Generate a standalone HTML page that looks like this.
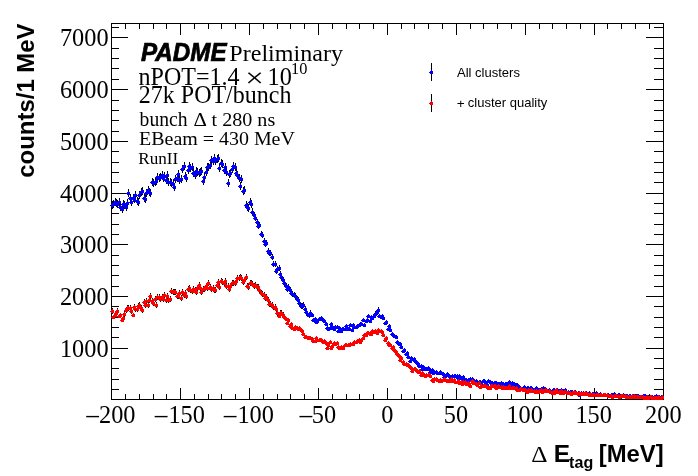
<!DOCTYPE html>
<html><head><meta charset="utf-8"><style>
html,body{margin:0;padding:0;background:#fff;}
svg{display:block;}
.serif{font-family:"Liberation Serif","DejaVu Serif",serif;}
.sans{font-family:"Liberation Sans","DejaVu Sans",sans-serif;}
</style></head><body>
<svg width="698" height="476" viewBox="0 0 698 476">
<rect width="698" height="476" fill="#fff"/>
<g shape-rendering="crispEdges">
<path d="M111 23h553v1h-553zM111 399h553v1h-553zM111 23h1v377h-1zM663 23h1v377h-1zM111 388h1v11h-1zM111 24h1v11h-1zM125 394h1v5h-1zM125 24h1v5h-1zM139 394h1v5h-1zM139 24h1v5h-1zM153 394h1v5h-1zM153 24h1v5h-1zM166 394h1v5h-1zM166 24h1v5h-1zM180 388h1v11h-1zM180 24h1v11h-1zM194 394h1v5h-1zM194 24h1v5h-1zM208 394h1v5h-1zM208 24h1v5h-1zM221 394h1v5h-1zM221 24h1v5h-1zM235 394h1v5h-1zM235 24h1v5h-1zM249 388h1v11h-1zM249 24h1v11h-1zM263 394h1v5h-1zM263 24h1v5h-1zM277 394h1v5h-1zM277 24h1v5h-1zM290 394h1v5h-1zM290 24h1v5h-1zM304 394h1v5h-1zM304 24h1v5h-1zM318 388h1v11h-1zM318 24h1v11h-1zM332 394h1v5h-1zM332 24h1v5h-1zM346 394h1v5h-1zM346 24h1v5h-1zM359 394h1v5h-1zM359 24h1v5h-1zM373 394h1v5h-1zM373 24h1v5h-1zM387 388h1v11h-1zM387 24h1v11h-1zM401 394h1v5h-1zM401 24h1v5h-1zM414 394h1v5h-1zM414 24h1v5h-1zM428 394h1v5h-1zM428 24h1v5h-1zM442 394h1v5h-1zM442 24h1v5h-1zM456 388h1v11h-1zM456 24h1v11h-1zM470 394h1v5h-1zM470 24h1v5h-1zM483 394h1v5h-1zM483 24h1v5h-1zM497 394h1v5h-1zM497 24h1v5h-1zM511 394h1v5h-1zM511 24h1v5h-1zM525 388h1v11h-1zM525 24h1v11h-1zM539 394h1v5h-1zM539 24h1v5h-1zM552 394h1v5h-1zM552 24h1v5h-1zM566 394h1v5h-1zM566 24h1v5h-1zM580 394h1v5h-1zM580 24h1v5h-1zM594 388h1v11h-1zM594 24h1v11h-1zM607 394h1v5h-1zM607 24h1v5h-1zM621 394h1v5h-1zM621 24h1v5h-1zM635 394h1v5h-1zM635 24h1v5h-1zM649 394h1v5h-1zM649 24h1v5h-1zM663 388h1v11h-1zM663 24h1v11h-1zM112 389h7v1h-7zM654 389h9v1h-9zM112 379h7v1h-7zM654 379h9v1h-9zM112 368h7v1h-7zM654 368h9v1h-9zM112 358h7v1h-7zM654 358h9v1h-9zM112 348h16v1h-16zM646 348h17v1h-17zM112 337h7v1h-7zM654 337h9v1h-9zM112 327h7v1h-7zM654 327h9v1h-9zM112 317h7v1h-7zM654 317h9v1h-9zM112 306h7v1h-7zM654 306h9v1h-9zM112 296h16v1h-16zM646 296h17v1h-17zM112 286h7v1h-7zM654 286h9v1h-9zM112 275h7v1h-7zM654 275h9v1h-9zM112 265h7v1h-7zM654 265h9v1h-9zM112 255h7v1h-7zM654 255h9v1h-9zM112 244h16v1h-16zM646 244h17v1h-17zM112 234h7v1h-7zM654 234h9v1h-9zM112 224h7v1h-7zM654 224h9v1h-9zM112 213h7v1h-7zM654 213h9v1h-9zM112 203h7v1h-7zM654 203h9v1h-9zM112 193h16v1h-16zM646 193h17v1h-17zM112 182h7v1h-7zM654 182h9v1h-9zM112 172h7v1h-7zM654 172h9v1h-9zM112 162h7v1h-7zM654 162h9v1h-9zM112 151h7v1h-7zM654 151h9v1h-9zM112 141h16v1h-16zM646 141h17v1h-17zM112 131h7v1h-7zM654 131h9v1h-9zM112 120h7v1h-7zM654 120h9v1h-9zM112 110h7v1h-7zM654 110h9v1h-9zM112 100h7v1h-7zM654 100h9v1h-9zM112 89h16v1h-16zM646 89h17v1h-17zM112 79h7v1h-7zM654 79h9v1h-9zM112 68h7v1h-7zM654 68h9v1h-9zM112 58h7v1h-7zM654 58h9v1h-9zM112 48h7v1h-7zM654 48h9v1h-9zM112 37h16v1h-16zM646 37h17v1h-17zM112 27h7v1h-7zM654 27h9v1h-9z" fill="#000"/>
<path d="M112 201h1v8h-1zM113 200h1v8h-1zM115 198h1v8h-1zM116 199h1v8h-1zM117 200h1v8h-1zM119 198h1v8h-1zM120 203h1v8h-1zM122 205h1v8h-1zM123 200h1v8h-1zM124 201h1v8h-1zM126 203h1v8h-1zM127 199h1v8h-1zM128 189h1v8h-1zM130 194h1v8h-1zM131 198h1v8h-1zM133 194h1v8h-1zM134 195h1v8h-1zM135 191h1v8h-1zM137 197h1v8h-1zM138 198h1v8h-1zM139 191h1v8h-1zM141 188h1v8h-1zM142 187h1v8h-1zM144 194h1v8h-1zM145 195h1v8h-1zM146 189h1v8h-1zM148 186h1v8h-1zM149 188h1v8h-1zM150 189h1v8h-1zM152 178h1v8h-1zM153 179h1v8h-1zM155 178h1v8h-1zM156 177h1v8h-1zM157 173h1v8h-1zM159 174h1v8h-1zM160 173h1v8h-1zM162 171h1v8h-1zM163 174h1v8h-1zM164 172h1v8h-1zM166 176h1v8h-1zM167 171h1v8h-1zM168 178h1v8h-1zM170 178h1v8h-1zM171 179h1v8h-1zM173 180h1v8h-1zM174 183h1v8h-1zM175 175h1v8h-1zM177 174h1v8h-1zM178 170h1v8h-1zM179 176h1v8h-1zM181 175h1v8h-1zM182 165h1v8h-1zM184 162h1v8h-1zM185 172h1v8h-1zM186 174h1v8h-1zM188 166h1v8h-1zM189 162h1v8h-1zM190 164h1v8h-1zM192 163h1v8h-1zM193 169h1v8h-1zM195 171h1v8h-1zM196 167h1v8h-1zM197 168h1v8h-1zM199 169h1v8h-1zM200 168h1v8h-1zM201 167h1v8h-1zM203 177h1v8h-1zM204 173h1v8h-1zM206 168h1v8h-1zM207 163h1v8h-1zM208 163h1v8h-1zM210 161h1v8h-1zM211 156h1v8h-1zM213 157h1v8h-1zM214 154h1v8h-1zM215 157h1v8h-1zM217 155h1v8h-1zM218 154h1v8h-1zM219 164h1v8h-1zM221 159h1v8h-1zM222 160h1v8h-1zM224 166h1v8h-1zM225 163h1v8h-1zM226 168h1v8h-1zM228 179h1v8h-1zM229 170h1v8h-1zM230 169h1v8h-1zM232 165h1v8h-1zM233 162h1v8h-1zM235 163h1v8h-1zM236 169h1v8h-1zM237 171h1v8h-1zM239 174h1v8h-1zM240 182h1v8h-1zM241 175h1v8h-1zM243 187h1v8h-1zM244 186h1v8h-1zM246 201h1v8h-1zM247 203h1v8h-1zM248 204h1v8h-1zM250 198h1v8h-1zM251 200h1v8h-1zM252 208h1v8h-1zM254 212h1v6h-1zM255 215h1v6h-1zM257 219h1v6h-1zM258 223h1v6h-1zM259 222h1v6h-1zM261 231h1v6h-1zM262 232h1v6h-1zM264 238h1v6h-1zM265 241h1v6h-1zM266 240h1v6h-1zM268 248h1v6h-1zM269 250h1v6h-1zM270 250h1v6h-1zM272 254h1v6h-1zM273 261h1v6h-1zM275 261h1v6h-1zM276 268h1v6h-1zM277 266h1v6h-1zM279 265h1v6h-1zM280 271h1v6h-1zM281 274h1v6h-1zM283 277h1v6h-1zM284 280h1v6h-1zM286 283h1v6h-1zM287 286h1v6h-1zM288 284h1v6h-1zM290 287h1v6h-1zM291 290h1v6h-1zM292 291h1v6h-1zM294 292h1v6h-1zM295 293h1v6h-1zM297 296h1v6h-1zM298 297h1v6h-1zM299 300h1v6h-1zM301 303h1v6h-1zM302 303h1v6h-1zM303 302h1v6h-1zM305 306h1v6h-1zM306 309h1v6h-1zM308 313h1v4h-1zM309 312h1v6h-1zM310 310h1v6h-1zM312 313h1v4h-1zM313 318h1v4h-1zM315 317h1v4h-1zM316 320h1v4h-1zM317 319h1v4h-1zM319 317h1v4h-1zM320 317h1v4h-1zM321 316h1v4h-1zM323 318h1v4h-1zM324 319h1v4h-1zM326 322h1v4h-1zM327 326h1v4h-1zM328 327h1v4h-1zM330 326h1v4h-1zM331 322h1v4h-1zM332 325h1v4h-1zM334 327h1v4h-1zM335 325h1v4h-1zM337 325h1v4h-1zM338 329h1v4h-1zM339 326h1v4h-1zM341 329h1v4h-1zM342 327h1v4h-1zM343 327h1v4h-1zM345 327h1v4h-1zM346 324h1v4h-1zM348 327h1v4h-1zM349 327h1v4h-1zM350 323h1v4h-1zM352 328h1v4h-1zM353 323h1v4h-1zM354 325h1v4h-1zM356 325h1v4h-1zM357 324h1v4h-1zM359 323h1v4h-1zM360 322h1v4h-1zM361 322h1v4h-1zM363 318h1v4h-1zM364 323h1v4h-1zM366 319h1v4h-1zM367 318h1v4h-1zM368 314h1v4h-1zM370 319h1v4h-1zM371 315h1v4h-1zM372 316h1v4h-1zM374 314h1v4h-1zM375 311h1v6h-1zM377 309h1v6h-1zM378 307h1v6h-1zM379 314h1v4h-1zM381 315h1v4h-1zM382 314h1v4h-1zM383 316h1v4h-1zM385 321h1v4h-1zM386 320h1v4h-1zM388 327h1v4h-1zM389 324h1v4h-1zM390 328h1v4h-1zM392 332h1v4h-1zM393 333h1v4h-1zM394 334h1v4h-1zM396 335h1v4h-1zM397 340h1v4h-1zM399 342h1v4h-1zM400 342h1v4h-1zM401 345h1v4h-1zM403 349h1v4h-1zM404 348h1v4h-1zM406 352h1v4h-1zM407 351h1v4h-1zM408 355h1v4h-1zM410 359h1v4h-1zM411 356h1v4h-1zM412 357h1v4h-1zM414 357h1v4h-1zM415 359h1v4h-1zM417 361h1v4h-1zM418 362h1v4h-1zM419 364h1v4h-1zM421 364h1v4h-1zM422 367h1v4h-1zM423 365h1v4h-1zM425 367h1v4h-1zM426 367h1v4h-1zM428 366h1v4h-1zM429 367h1v4h-1zM430 370h1v4h-1zM432 368h1v4h-1zM433 371h1v4h-1zM434 370h1v4h-1zM436 370h1v4h-1zM437 371h1v4h-1zM439 371h1v4h-1zM440 370h1v4h-1zM441 371h1v4h-1zM443 372h1v4h-1zM444 376h1v2h-1zM445 374h1v4h-1zM447 372h1v4h-1zM448 373h1v4h-1zM450 376h1v2h-1zM451 376h1v2h-1zM452 374h1v4h-1zM454 374h1v4h-1zM455 374h1v4h-1zM457 374h1v4h-1zM458 377h1v2h-1zM459 374h1v4h-1zM461 377h1v2h-1zM462 378h1v2h-1zM463 376h1v2h-1zM465 379h1v2h-1zM466 379h1v2h-1zM468 379h1v2h-1zM469 379h1v2h-1zM470 378h1v2h-1zM472 378h1v2h-1zM473 379h1v2h-1zM474 380h1v2h-1zM476 380h1v2h-1zM477 381h1v2h-1zM479 381h1v2h-1zM480 381h1v2h-1zM481 382h1v2h-1zM483 380h1v2h-1zM484 380h1v2h-1zM485 381h1v2h-1zM487 384h1v2h-1zM488 380h1v2h-1zM490 381h1v2h-1zM491 382h1v2h-1zM492 382h1v2h-1zM494 382h1v2h-1zM495 382h1v2h-1zM496 382h1v2h-1zM498 383h1v2h-1zM499 383h1v2h-1zM501 382h1v2h-1zM502 383h1v2h-1zM503 383h1v2h-1zM505 383h1v2h-1zM506 383h1v2h-1zM508 383h1v2h-1zM509 381h1v2h-1zM510 384h1v2h-1zM512 382h1v2h-1zM513 383h1v2h-1zM514 383h1v2h-1zM516 384h1v2h-1zM517 384h1v2h-1zM519 386h1v2h-1zM520 387h1v2h-1zM521 388h1v2h-1zM523 387h1v2h-1zM524 386h1v2h-1zM525 388h1v2h-1zM527 387h1v2h-1zM528 387h1v2h-1zM530 387h1v2h-1zM531 387h1v2h-1zM532 388h1v2h-1zM534 389h1v2h-1zM535 389h1v2h-1zM536 387h1v2h-1zM538 389h1v2h-1zM539 389h1v2h-1zM541 388h1v2h-1zM542 389h1v2h-1zM543 387h1v2h-1zM545 388h1v2h-1zM546 389h1v2h-1zM547 390h1v2h-1zM549 389h1v2h-1zM550 390h1v2h-1zM552 390h1v2h-1zM553 389h1v2h-1zM554 389h1v2h-1zM556 390h1v2h-1zM557 389h1v2h-1zM559 390h1v2h-1zM560 390h1v2h-1zM561 389h1v2h-1zM563 390h1v2h-1zM564 391h1v2h-1zM565 389h1v2h-1zM567 392h1v2h-1zM568 391h1v2h-1zM570 391h1v2h-1zM571 391h1v2h-1zM572 391h1v2h-1zM574 392h1v2h-1zM575 391h1v2h-1zM576 392h1v2h-1zM578 392h1v2h-1zM579 394h1v2h-1zM581 392h1v2h-1zM582 393h1v2h-1zM583 392h1v2h-1zM585 392h1v2h-1zM586 392h1v2h-1zM587 393h1v2h-1zM589 392h1v2h-1zM590 393h1v2h-1zM592 393h1v2h-1zM593 393h1v2h-1zM594 394h1v2h-1zM596 392h1v2h-1zM597 393h1v2h-1zM598 394h1v2h-1zM600 393h1v2h-1zM601 394h1v2h-1zM603 394h1v2h-1zM604 394h1v2h-1zM605 394h1v2h-1zM607 394h1v2h-1zM608 394h1v2h-1zM610 395h1v2h-1zM611 394h1v2h-1zM612 394h1v2h-1zM614 393h1v2h-1zM615 394h1v2h-1zM616 395h1v2h-1zM618 394h1v2h-1zM619 394h1v2h-1zM621 395h1v2h-1zM622 395h1v2h-1zM623 394h1v2h-1zM625 395h1v2h-1zM626 395h1v2h-1zM627 395h1v2h-1zM629 395h1v2h-1zM630 395h1v2h-1zM632 395h1v2h-1zM633 395h1v2h-1zM634 395h1v2h-1zM636 395h1v2h-1zM637 395h1v2h-1zM638 395h1v2h-1zM640 396h1v2h-1zM641 396h1v2h-1zM643 395h1v2h-1zM644 395h1v2h-1zM645 395h1v2h-1zM647 396h1v2h-1zM648 396h1v2h-1zM650 396h1v2h-1zM651 396h1v2h-1zM652 396h1v2h-1zM654 396h1v2h-1zM655 396h1v2h-1zM656 395h1v2h-1zM658 396h1v2h-1zM659 396h1v2h-1zM661 396h1v2h-1zM662 396h1v2h-1z" fill="#000"/>
<path d="M112 203h1v1h1v3h-3v-1h-1v-1h1v-1h1zM113 202h1v1h1v3h-3v-1h-1v-1h1v-1h1zM115 200h1v1h1v3h-3v-1h-1v-1h1v-1h1zM116 201h1v1h1v3h-3v-1h-1v-1h1v-1h1zM117 202h1v1h1v3h-3v-1h-1v-1h1v-1h1zM119 200h1v1h1v3h-3v-1h-1v-1h1v-1h1zM120 205h1v1h1v3h-3v-1h-1v-1h1v-1h1zM122 207h1v1h1v3h-3v-1h-1v-1h1v-1h1zM123 202h1v1h1v3h-3v-1h-1v-1h1v-1h1zM124 203h1v1h1v3h-3v-1h-1v-1h1v-1h1zM126 205h1v1h1v3h-3v-1h-1v-1h1v-1h1zM127 201h1v1h1v3h-3v-1h-1v-1h1v-1h1zM128 191h1v1h1v3h-3v-1h-1v-1h1v-1h1zM130 196h1v1h1v3h-3v-1h-1v-1h1v-1h1zM131 200h1v1h1v3h-3v-1h-1v-1h1v-1h1zM133 196h1v1h1v3h-3v-1h-1v-1h1v-1h1zM134 197h1v1h1v3h-3v-1h-1v-1h1v-1h1zM135 193h1v1h1v3h-3v-1h-1v-1h1v-1h1zM137 199h1v1h1v3h-3v-1h-1v-1h1v-1h1zM138 200h1v1h1v3h-3v-1h-1v-1h1v-1h1zM139 193h1v1h1v3h-3v-1h-1v-1h1v-1h1zM141 190h1v1h1v3h-3v-1h-1v-1h1v-1h1zM142 189h1v1h1v3h-3v-1h-1v-1h1v-1h1zM144 196h1v1h1v3h-3v-1h-1v-1h1v-1h1zM145 197h1v1h1v3h-3v-1h-1v-1h1v-1h1zM146 191h1v1h1v3h-3v-1h-1v-1h1v-1h1zM148 188h1v1h1v3h-3v-1h-1v-1h1v-1h1zM149 190h1v1h1v3h-3v-1h-1v-1h1v-1h1zM150 191h1v1h1v3h-3v-1h-1v-1h1v-1h1zM152 180h1v1h1v3h-3v-1h-1v-1h1v-1h1zM153 181h1v1h1v3h-3v-1h-1v-1h1v-1h1zM155 180h1v1h1v3h-3v-1h-1v-1h1v-1h1zM156 179h1v1h1v3h-3v-1h-1v-1h1v-1h1zM157 175h1v1h1v3h-3v-1h-1v-1h1v-1h1zM159 176h1v1h1v3h-3v-1h-1v-1h1v-1h1zM160 175h1v1h1v3h-3v-1h-1v-1h1v-1h1zM162 173h1v1h1v3h-3v-1h-1v-1h1v-1h1zM163 176h1v1h1v3h-3v-1h-1v-1h1v-1h1zM164 174h1v1h1v3h-3v-1h-1v-1h1v-1h1zM166 178h1v1h1v3h-3v-1h-1v-1h1v-1h1zM167 173h1v1h1v3h-3v-1h-1v-1h1v-1h1zM168 180h1v1h1v3h-3v-1h-1v-1h1v-1h1zM170 180h1v1h1v3h-3v-1h-1v-1h1v-1h1zM171 181h1v1h1v3h-3v-1h-1v-1h1v-1h1zM173 182h1v1h1v3h-3v-1h-1v-1h1v-1h1zM174 185h1v1h1v3h-3v-1h-1v-1h1v-1h1zM175 177h1v1h1v3h-3v-1h-1v-1h1v-1h1zM177 176h1v1h1v3h-3v-1h-1v-1h1v-1h1zM178 172h1v1h1v3h-3v-1h-1v-1h1v-1h1zM179 178h1v1h1v3h-3v-1h-1v-1h1v-1h1zM181 177h1v1h1v3h-3v-1h-1v-1h1v-1h1zM182 167h1v1h1v3h-3v-1h-1v-1h1v-1h1zM184 164h1v1h1v3h-3v-1h-1v-1h1v-1h1zM185 174h1v1h1v3h-3v-1h-1v-1h1v-1h1zM186 176h1v1h1v3h-3v-1h-1v-1h1v-1h1zM188 168h1v1h1v3h-3v-1h-1v-1h1v-1h1zM189 164h1v1h1v3h-3v-1h-1v-1h1v-1h1zM190 166h1v1h1v3h-3v-1h-1v-1h1v-1h1zM192 165h1v1h1v3h-3v-1h-1v-1h1v-1h1zM193 171h1v1h1v3h-3v-1h-1v-1h1v-1h1zM195 173h1v1h1v3h-3v-1h-1v-1h1v-1h1zM196 169h1v1h1v3h-3v-1h-1v-1h1v-1h1zM197 170h1v1h1v3h-3v-1h-1v-1h1v-1h1zM199 171h1v1h1v3h-3v-1h-1v-1h1v-1h1zM200 170h1v1h1v3h-3v-1h-1v-1h1v-1h1zM201 169h1v1h1v3h-3v-1h-1v-1h1v-1h1zM203 179h1v1h1v3h-3v-1h-1v-1h1v-1h1zM204 175h1v1h1v3h-3v-1h-1v-1h1v-1h1zM206 170h1v1h1v3h-3v-1h-1v-1h1v-1h1zM207 165h1v1h1v3h-3v-1h-1v-1h1v-1h1zM208 165h1v1h1v3h-3v-1h-1v-1h1v-1h1zM210 163h1v1h1v3h-3v-1h-1v-1h1v-1h1zM211 158h1v1h1v3h-3v-1h-1v-1h1v-1h1zM213 159h1v1h1v3h-3v-1h-1v-1h1v-1h1zM214 156h1v1h1v3h-3v-1h-1v-1h1v-1h1zM215 159h1v1h1v3h-3v-1h-1v-1h1v-1h1zM217 157h1v1h1v3h-3v-1h-1v-1h1v-1h1zM218 156h1v1h1v3h-3v-1h-1v-1h1v-1h1zM219 166h1v1h1v3h-3v-1h-1v-1h1v-1h1zM221 161h1v1h1v3h-3v-1h-1v-1h1v-1h1zM222 162h1v1h1v3h-3v-1h-1v-1h1v-1h1zM224 168h1v1h1v3h-3v-1h-1v-1h1v-1h1zM225 165h1v1h1v3h-3v-1h-1v-1h1v-1h1zM226 170h1v1h1v3h-3v-1h-1v-1h1v-1h1zM228 181h1v1h1v3h-3v-1h-1v-1h1v-1h1zM229 172h1v1h1v3h-3v-1h-1v-1h1v-1h1zM230 171h1v1h1v3h-3v-1h-1v-1h1v-1h1zM232 167h1v1h1v3h-3v-1h-1v-1h1v-1h1zM233 164h1v1h1v3h-3v-1h-1v-1h1v-1h1zM235 165h1v1h1v3h-3v-1h-1v-1h1v-1h1zM236 171h1v1h1v3h-3v-1h-1v-1h1v-1h1zM237 173h1v1h1v3h-3v-1h-1v-1h1v-1h1zM239 176h1v1h1v3h-3v-1h-1v-1h1v-1h1zM240 184h1v1h1v3h-3v-1h-1v-1h1v-1h1zM241 177h1v1h1v3h-3v-1h-1v-1h1v-1h1zM243 189h1v1h1v3h-3v-1h-1v-1h1v-1h1zM244 188h1v1h1v3h-3v-1h-1v-1h1v-1h1zM246 203h1v1h1v3h-3v-1h-1v-1h1v-1h1zM247 205h1v1h1v3h-3v-1h-1v-1h1v-1h1zM248 206h1v1h1v3h-3v-1h-1v-1h1v-1h1zM250 200h1v1h1v3h-3v-1h-1v-1h1v-1h1zM251 202h1v1h1v3h-3v-1h-1v-1h1v-1h1zM252 210h1v1h1v3h-3v-1h-1v-1h1v-1h1zM254 213h1v1h1v3h-3v-1h-1v-1h1v-1h1zM255 216h1v1h1v3h-3v-1h-1v-1h1v-1h1zM257 220h1v1h1v3h-3v-1h-1v-1h1v-1h1zM258 224h1v1h1v3h-3v-1h-1v-1h1v-1h1zM259 223h1v1h1v3h-3v-1h-1v-1h1v-1h1zM261 232h1v1h1v3h-3v-1h-1v-1h1v-1h1zM262 233h1v1h1v3h-3v-1h-1v-1h1v-1h1zM264 239h1v1h1v3h-3v-1h-1v-1h1v-1h1zM265 242h1v1h1v3h-3v-1h-1v-1h1v-1h1zM266 241h1v1h1v3h-3v-1h-1v-1h1v-1h1zM268 249h1v1h1v3h-3v-1h-1v-1h1v-1h1zM269 251h1v1h1v3h-3v-1h-1v-1h1v-1h1zM270 251h1v1h1v3h-3v-1h-1v-1h1v-1h1zM272 255h1v1h1v3h-3v-1h-1v-1h1v-1h1zM273 262h1v1h1v3h-3v-1h-1v-1h1v-1h1zM275 262h1v1h1v3h-3v-1h-1v-1h1v-1h1zM276 269h1v1h1v3h-3v-1h-1v-1h1v-1h1zM277 267h1v1h1v3h-3v-1h-1v-1h1v-1h1zM279 266h1v1h1v3h-3v-1h-1v-1h1v-1h1zM280 272h1v1h1v3h-3v-1h-1v-1h1v-1h1zM281 275h1v1h1v3h-3v-1h-1v-1h1v-1h1zM283 278h1v1h1v3h-3v-1h-1v-1h1v-1h1zM284 281h1v1h1v3h-3v-1h-1v-1h1v-1h1zM286 284h1v1h1v3h-3v-1h-1v-1h1v-1h1zM287 287h1v1h1v3h-3v-1h-1v-1h1v-1h1zM288 285h1v1h1v3h-3v-1h-1v-1h1v-1h1zM290 288h1v1h1v3h-3v-1h-1v-1h1v-1h1zM291 291h1v1h1v3h-3v-1h-1v-1h1v-1h1zM292 292h1v1h1v3h-3v-1h-1v-1h1v-1h1zM294 293h1v1h1v3h-3v-1h-1v-1h1v-1h1zM295 294h1v1h1v3h-3v-1h-1v-1h1v-1h1zM297 297h1v1h1v3h-3v-1h-1v-1h1v-1h1zM298 298h1v1h1v3h-3v-1h-1v-1h1v-1h1zM299 301h1v1h1v3h-3v-1h-1v-1h1v-1h1zM301 304h1v1h1v3h-3v-1h-1v-1h1v-1h1zM302 304h1v1h1v3h-3v-1h-1v-1h1v-1h1zM303 303h1v1h1v3h-3v-1h-1v-1h1v-1h1zM305 307h1v1h1v3h-3v-1h-1v-1h1v-1h1zM306 310h1v1h1v3h-3v-1h-1v-1h1v-1h1zM308 313h1v1h1v3h-3v-1h-1v-1h1v-1h1zM309 313h1v1h1v3h-3v-1h-1v-1h1v-1h1zM310 311h1v1h1v3h-3v-1h-1v-1h1v-1h1zM312 313h1v1h1v3h-3v-1h-1v-1h1v-1h1zM313 318h1v1h1v3h-3v-1h-1v-1h1v-1h1zM315 317h1v1h1v3h-3v-1h-1v-1h1v-1h1zM316 320h1v1h1v3h-3v-1h-1v-1h1v-1h1zM317 319h1v1h1v3h-3v-1h-1v-1h1v-1h1zM319 317h1v1h1v3h-3v-1h-1v-1h1v-1h1zM320 317h1v1h1v3h-3v-1h-1v-1h1v-1h1zM321 316h1v1h1v3h-3v-1h-1v-1h1v-1h1zM323 318h1v1h1v3h-3v-1h-1v-1h1v-1h1zM324 319h1v1h1v3h-3v-1h-1v-1h1v-1h1zM326 322h1v1h1v3h-3v-1h-1v-1h1v-1h1zM327 326h1v1h1v3h-3v-1h-1v-1h1v-1h1zM328 327h1v1h1v3h-3v-1h-1v-1h1v-1h1zM330 326h1v1h1v3h-3v-1h-1v-1h1v-1h1zM331 322h1v1h1v3h-3v-1h-1v-1h1v-1h1zM332 325h1v1h1v3h-3v-1h-1v-1h1v-1h1zM334 327h1v1h1v3h-3v-1h-1v-1h1v-1h1zM335 325h1v1h1v3h-3v-1h-1v-1h1v-1h1zM337 325h1v1h1v3h-3v-1h-1v-1h1v-1h1zM338 329h1v1h1v3h-3v-1h-1v-1h1v-1h1zM339 326h1v1h1v3h-3v-1h-1v-1h1v-1h1zM341 329h1v1h1v3h-3v-1h-1v-1h1v-1h1zM342 327h1v1h1v3h-3v-1h-1v-1h1v-1h1zM343 327h1v1h1v3h-3v-1h-1v-1h1v-1h1zM345 327h1v1h1v3h-3v-1h-1v-1h1v-1h1zM346 324h1v1h1v3h-3v-1h-1v-1h1v-1h1zM348 327h1v1h1v3h-3v-1h-1v-1h1v-1h1zM349 327h1v1h1v3h-3v-1h-1v-1h1v-1h1zM350 323h1v1h1v3h-3v-1h-1v-1h1v-1h1zM352 328h1v1h1v3h-3v-1h-1v-1h1v-1h1zM353 323h1v1h1v3h-3v-1h-1v-1h1v-1h1zM354 325h1v1h1v3h-3v-1h-1v-1h1v-1h1zM356 325h1v1h1v3h-3v-1h-1v-1h1v-1h1zM357 324h1v1h1v3h-3v-1h-1v-1h1v-1h1zM359 323h1v1h1v3h-3v-1h-1v-1h1v-1h1zM360 322h1v1h1v3h-3v-1h-1v-1h1v-1h1zM361 322h1v1h1v3h-3v-1h-1v-1h1v-1h1zM363 318h1v1h1v3h-3v-1h-1v-1h1v-1h1zM364 323h1v1h1v3h-3v-1h-1v-1h1v-1h1zM366 319h1v1h1v3h-3v-1h-1v-1h1v-1h1zM367 318h1v1h1v3h-3v-1h-1v-1h1v-1h1zM368 314h1v1h1v3h-3v-1h-1v-1h1v-1h1zM370 319h1v1h1v3h-3v-1h-1v-1h1v-1h1zM371 315h1v1h1v3h-3v-1h-1v-1h1v-1h1zM372 316h1v1h1v3h-3v-1h-1v-1h1v-1h1zM374 314h1v1h1v3h-3v-1h-1v-1h1v-1h1zM375 312h1v1h1v3h-3v-1h-1v-1h1v-1h1zM377 310h1v1h1v3h-3v-1h-1v-1h1v-1h1zM378 308h1v1h1v3h-3v-1h-1v-1h1v-1h1zM379 314h1v1h1v3h-3v-1h-1v-1h1v-1h1zM381 315h1v1h1v3h-3v-1h-1v-1h1v-1h1zM382 314h1v1h1v3h-3v-1h-1v-1h1v-1h1zM383 316h1v1h1v3h-3v-1h-1v-1h1v-1h1zM385 321h1v1h1v3h-3v-1h-1v-1h1v-1h1zM386 320h1v1h1v3h-3v-1h-1v-1h1v-1h1zM388 327h1v1h1v3h-3v-1h-1v-1h1v-1h1zM389 324h1v1h1v3h-3v-1h-1v-1h1v-1h1zM390 328h1v1h1v3h-3v-1h-1v-1h1v-1h1zM392 332h1v1h1v3h-3v-1h-1v-1h1v-1h1zM393 333h1v1h1v3h-3v-1h-1v-1h1v-1h1zM394 334h1v1h1v3h-3v-1h-1v-1h1v-1h1zM396 335h1v1h1v3h-3v-1h-1v-1h1v-1h1zM397 340h1v1h1v3h-3v-1h-1v-1h1v-1h1zM399 342h1v1h1v3h-3v-1h-1v-1h1v-1h1zM400 342h1v1h1v3h-3v-1h-1v-1h1v-1h1zM401 345h1v1h1v3h-3v-1h-1v-1h1v-1h1zM403 349h1v1h1v3h-3v-1h-1v-1h1v-1h1zM404 348h1v1h1v3h-3v-1h-1v-1h1v-1h1zM406 352h1v1h1v3h-3v-1h-1v-1h1v-1h1zM407 351h1v1h1v3h-3v-1h-1v-1h1v-1h1zM408 355h1v1h1v3h-3v-1h-1v-1h1v-1h1zM410 359h1v1h1v3h-3v-1h-1v-1h1v-1h1zM411 356h1v1h1v3h-3v-1h-1v-1h1v-1h1zM412 357h1v1h1v3h-3v-1h-1v-1h1v-1h1zM414 357h1v1h1v3h-3v-1h-1v-1h1v-1h1zM415 359h1v1h1v3h-3v-1h-1v-1h1v-1h1zM417 361h1v1h1v3h-3v-1h-1v-1h1v-1h1zM418 362h1v1h1v3h-3v-1h-1v-1h1v-1h1zM419 364h1v1h1v3h-3v-1h-1v-1h1v-1h1zM421 364h1v1h1v3h-3v-1h-1v-1h1v-1h1zM422 367h1v1h1v3h-3v-1h-1v-1h1v-1h1zM423 365h1v1h1v3h-3v-1h-1v-1h1v-1h1zM425 367h1v1h1v3h-3v-1h-1v-1h1v-1h1zM426 367h1v1h1v3h-3v-1h-1v-1h1v-1h1zM428 366h1v1h1v3h-3v-1h-1v-1h1v-1h1zM429 367h1v1h1v3h-3v-1h-1v-1h1v-1h1zM430 370h1v1h1v3h-3v-1h-1v-1h1v-1h1zM432 368h1v1h1v3h-3v-1h-1v-1h1v-1h1zM433 371h1v1h1v3h-3v-1h-1v-1h1v-1h1zM434 370h1v1h1v3h-3v-1h-1v-1h1v-1h1zM436 370h1v1h1v3h-3v-1h-1v-1h1v-1h1zM437 371h1v1h1v3h-3v-1h-1v-1h1v-1h1zM439 371h1v1h1v3h-3v-1h-1v-1h1v-1h1zM440 370h1v1h1v3h-3v-1h-1v-1h1v-1h1zM441 371h1v1h1v3h-3v-1h-1v-1h1v-1h1zM443 372h1v1h1v3h-3v-1h-1v-1h1v-1h1zM444 375h1v1h1v3h-3v-1h-1v-1h1v-1h1zM445 374h1v1h1v3h-3v-1h-1v-1h1v-1h1zM447 372h1v1h1v3h-3v-1h-1v-1h1v-1h1zM448 373h1v1h1v3h-3v-1h-1v-1h1v-1h1zM450 375h1v1h1v3h-3v-1h-1v-1h1v-1h1zM451 375h1v1h1v3h-3v-1h-1v-1h1v-1h1zM452 374h1v1h1v3h-3v-1h-1v-1h1v-1h1zM454 374h1v1h1v3h-3v-1h-1v-1h1v-1h1zM455 374h1v1h1v3h-3v-1h-1v-1h1v-1h1zM457 374h1v1h1v3h-3v-1h-1v-1h1v-1h1zM458 376h1v1h1v3h-3v-1h-1v-1h1v-1h1zM459 374h1v1h1v3h-3v-1h-1v-1h1v-1h1zM461 376h1v1h1v3h-3v-1h-1v-1h1v-1h1zM462 377h1v1h1v3h-3v-1h-1v-1h1v-1h1zM463 375h1v1h1v3h-3v-1h-1v-1h1v-1h1zM465 378h1v1h1v3h-3v-1h-1v-1h1v-1h1zM466 378h1v1h1v3h-3v-1h-1v-1h1v-1h1zM468 378h1v1h1v3h-3v-1h-1v-1h1v-1h1zM469 378h1v1h1v3h-3v-1h-1v-1h1v-1h1zM470 377h1v1h1v3h-3v-1h-1v-1h1v-1h1zM472 377h1v1h1v3h-3v-1h-1v-1h1v-1h1zM473 378h1v1h1v3h-3v-1h-1v-1h1v-1h1zM474 379h1v1h1v3h-3v-1h-1v-1h1v-1h1zM476 379h1v1h1v3h-3v-1h-1v-1h1v-1h1zM477 380h1v1h1v3h-3v-1h-1v-1h1v-1h1zM479 380h1v1h1v3h-3v-1h-1v-1h1v-1h1zM480 380h1v1h1v3h-3v-1h-1v-1h1v-1h1zM481 381h1v1h1v3h-3v-1h-1v-1h1v-1h1zM483 379h1v1h1v3h-3v-1h-1v-1h1v-1h1zM484 379h1v1h1v3h-3v-1h-1v-1h1v-1h1zM485 380h1v1h1v3h-3v-1h-1v-1h1v-1h1zM487 383h1v1h1v3h-3v-1h-1v-1h1v-1h1zM488 379h1v1h1v3h-3v-1h-1v-1h1v-1h1zM490 380h1v1h1v3h-3v-1h-1v-1h1v-1h1zM491 381h1v1h1v3h-3v-1h-1v-1h1v-1h1zM492 381h1v1h1v3h-3v-1h-1v-1h1v-1h1zM494 381h1v1h1v3h-3v-1h-1v-1h1v-1h1zM495 381h1v1h1v3h-3v-1h-1v-1h1v-1h1zM496 381h1v1h1v3h-3v-1h-1v-1h1v-1h1zM498 382h1v1h1v3h-3v-1h-1v-1h1v-1h1zM499 382h1v1h1v3h-3v-1h-1v-1h1v-1h1zM501 381h1v1h1v3h-3v-1h-1v-1h1v-1h1zM502 382h1v1h1v3h-3v-1h-1v-1h1v-1h1zM503 382h1v1h1v3h-3v-1h-1v-1h1v-1h1zM505 382h1v1h1v3h-3v-1h-1v-1h1v-1h1zM506 382h1v1h1v3h-3v-1h-1v-1h1v-1h1zM508 382h1v1h1v3h-3v-1h-1v-1h1v-1h1zM509 380h1v1h1v3h-3v-1h-1v-1h1v-1h1zM510 383h1v1h1v3h-3v-1h-1v-1h1v-1h1zM512 381h1v1h1v3h-3v-1h-1v-1h1v-1h1zM513 382h1v1h1v3h-3v-1h-1v-1h1v-1h1zM514 382h1v1h1v3h-3v-1h-1v-1h1v-1h1zM516 383h1v1h1v3h-3v-1h-1v-1h1v-1h1zM517 383h1v1h1v3h-3v-1h-1v-1h1v-1h1zM519 385h1v1h1v3h-3v-1h-1v-1h1v-1h1zM520 386h1v1h1v3h-3v-1h-1v-1h1v-1h1zM521 387h1v1h1v3h-3v-1h-1v-1h1v-1h1zM523 386h1v1h1v3h-3v-1h-1v-1h1v-1h1zM524 385h1v1h1v3h-3v-1h-1v-1h1v-1h1zM525 387h1v1h1v3h-3v-1h-1v-1h1v-1h1zM527 386h1v1h1v3h-3v-1h-1v-1h1v-1h1zM528 386h1v1h1v3h-3v-1h-1v-1h1v-1h1zM530 386h1v1h1v3h-3v-1h-1v-1h1v-1h1zM531 386h1v1h1v3h-3v-1h-1v-1h1v-1h1zM532 387h1v1h1v3h-3v-1h-1v-1h1v-1h1zM534 388h1v1h1v3h-3v-1h-1v-1h1v-1h1zM535 388h1v1h1v3h-3v-1h-1v-1h1v-1h1zM536 386h1v1h1v3h-3v-1h-1v-1h1v-1h1zM538 388h1v1h1v3h-3v-1h-1v-1h1v-1h1zM539 388h1v1h1v3h-3v-1h-1v-1h1v-1h1zM541 387h1v1h1v3h-3v-1h-1v-1h1v-1h1zM542 388h1v1h1v3h-3v-1h-1v-1h1v-1h1zM543 386h1v1h1v3h-3v-1h-1v-1h1v-1h1zM545 387h1v1h1v3h-3v-1h-1v-1h1v-1h1zM546 388h1v1h1v3h-3v-1h-1v-1h1v-1h1zM547 389h1v1h1v3h-3v-1h-1v-1h1v-1h1zM549 388h1v1h1v3h-3v-1h-1v-1h1v-1h1zM550 389h1v1h1v3h-3v-1h-1v-1h1v-1h1zM552 389h1v1h1v3h-3v-1h-1v-1h1v-1h1zM553 388h1v1h1v3h-3v-1h-1v-1h1v-1h1zM554 388h1v1h1v3h-3v-1h-1v-1h1v-1h1zM556 389h1v1h1v3h-3v-1h-1v-1h1v-1h1zM557 388h1v1h1v3h-3v-1h-1v-1h1v-1h1zM559 389h1v1h1v3h-3v-1h-1v-1h1v-1h1zM560 389h1v1h1v3h-3v-1h-1v-1h1v-1h1zM561 388h1v1h1v3h-3v-1h-1v-1h1v-1h1zM563 389h1v1h1v3h-3v-1h-1v-1h1v-1h1zM564 390h1v1h1v3h-3v-1h-1v-1h1v-1h1zM565 388h1v1h1v3h-3v-1h-1v-1h1v-1h1zM567 391h1v1h1v3h-3v-1h-1v-1h1v-1h1zM568 390h1v1h1v3h-3v-1h-1v-1h1v-1h1zM570 390h1v1h1v3h-3v-1h-1v-1h1v-1h1zM571 390h1v1h1v3h-3v-1h-1v-1h1v-1h1zM572 390h1v1h1v3h-3v-1h-1v-1h1v-1h1zM574 391h1v1h1v3h-3v-1h-1v-1h1v-1h1zM575 390h1v1h1v3h-3v-1h-1v-1h1v-1h1zM576 391h1v1h1v3h-3v-1h-1v-1h1v-1h1zM578 391h1v1h1v3h-3v-1h-1v-1h1v-1h1zM579 393h1v1h1v3h-3v-1h-1v-1h1v-1h1zM581 391h1v1h1v3h-3v-1h-1v-1h1v-1h1zM582 392h1v1h1v3h-3v-1h-1v-1h1v-1h1zM583 391h1v1h1v3h-3v-1h-1v-1h1v-1h1zM585 391h1v1h1v3h-3v-1h-1v-1h1v-1h1zM586 391h1v1h1v3h-3v-1h-1v-1h1v-1h1zM587 392h1v1h1v3h-3v-1h-1v-1h1v-1h1zM589 391h1v1h1v3h-3v-1h-1v-1h1v-1h1zM590 392h1v1h1v3h-3v-1h-1v-1h1v-1h1zM592 392h1v1h1v3h-3v-1h-1v-1h1v-1h1zM593 392h1v1h1v3h-3v-1h-1v-1h1v-1h1zM594 393h1v1h1v3h-3v-1h-1v-1h1v-1h1zM596 391h1v1h1v3h-3v-1h-1v-1h1v-1h1zM597 392h1v1h1v3h-3v-1h-1v-1h1v-1h1zM598 393h1v1h1v3h-3v-1h-1v-1h1v-1h1zM600 392h1v1h1v3h-3v-1h-1v-1h1v-1h1zM601 393h1v1h1v3h-3v-1h-1v-1h1v-1h1zM603 393h1v1h1v3h-3v-1h-1v-1h1v-1h1zM604 393h1v1h1v3h-3v-1h-1v-1h1v-1h1zM605 393h1v1h1v3h-3v-1h-1v-1h1v-1h1zM607 393h1v1h1v3h-3v-1h-1v-1h1v-1h1zM608 393h1v1h1v3h-3v-1h-1v-1h1v-1h1zM610 394h1v1h1v3h-3v-1h-1v-1h1v-1h1zM611 393h1v1h1v3h-3v-1h-1v-1h1v-1h1zM612 393h1v1h1v3h-3v-1h-1v-1h1v-1h1zM614 392h1v1h1v3h-3v-1h-1v-1h1v-1h1zM615 393h1v1h1v3h-3v-1h-1v-1h1v-1h1zM616 394h1v1h1v3h-3v-1h-1v-1h1v-1h1zM618 393h1v1h1v3h-3v-1h-1v-1h1v-1h1zM619 393h1v1h1v3h-3v-1h-1v-1h1v-1h1zM621 394h1v1h1v3h-3v-1h-1v-1h1v-1h1zM622 394h1v1h1v3h-3v-1h-1v-1h1v-1h1zM623 393h1v1h1v3h-3v-1h-1v-1h1v-1h1zM625 394h1v1h1v3h-3v-1h-1v-1h1v-1h1zM626 394h1v1h1v3h-3v-1h-1v-1h1v-1h1zM627 394h1v1h1v3h-3v-1h-1v-1h1v-1h1zM629 394h1v1h1v3h-3v-1h-1v-1h1v-1h1zM630 394h1v1h1v3h-3v-1h-1v-1h1v-1h1zM632 394h1v1h1v3h-3v-1h-1v-1h1v-1h1zM633 394h1v1h1v3h-3v-1h-1v-1h1v-1h1zM634 394h1v1h1v3h-3v-1h-1v-1h1v-1h1zM636 394h1v1h1v3h-3v-1h-1v-1h1v-1h1zM637 394h1v1h1v3h-3v-1h-1v-1h1v-1h1zM638 394h1v1h1v3h-3v-1h-1v-1h1v-1h1zM640 395h1v1h1v3h-3v-1h-1v-1h1v-1h1zM641 395h1v1h1v3h-3v-1h-1v-1h1v-1h1zM643 394h1v1h1v3h-3v-1h-1v-1h1v-1h1zM644 394h1v1h1v3h-3v-1h-1v-1h1v-1h1zM645 394h1v1h1v3h-3v-1h-1v-1h1v-1h1zM647 395h1v1h1v3h-3v-1h-1v-1h1v-1h1zM648 395h1v1h1v3h-3v-1h-1v-1h1v-1h1zM650 395h1v1h1v3h-3v-1h-1v-1h1v-1h1zM651 395h1v1h1v3h-3v-1h-1v-1h1v-1h1zM652 395h1v1h1v3h-3v-1h-1v-1h1v-1h1zM654 395h1v1h1v3h-3v-1h-1v-1h1v-1h1zM655 395h1v1h1v3h-3v-1h-1v-1h1v-1h1zM656 394h1v1h1v3h-3v-1h-1v-1h1v-1h1zM658 395h1v1h1v3h-3v-1h-1v-1h1v-1h1zM659 395h1v1h1v3h-3v-1h-1v-1h1v-1h1zM661 395h1v1h1v3h-3v-1h-1v-1h1v-1h1zM662 395h1v1h1v3h-3v-1h-1v-1h1v-1h1z" fill="#0000ff"/>

<path d="M112 308h1v6h-1zM113 315h1v4h-1zM115 312h1v6h-1zM116 310h1v6h-1zM117 308h1v6h-1zM119 314h1v4h-1zM120 313h1v4h-1zM122 318h1v4h-1zM123 316h1v4h-1zM124 311h1v6h-1zM126 307h1v6h-1zM127 305h1v6h-1zM128 305h1v6h-1zM130 305h1v6h-1zM131 308h1v6h-1zM133 313h1v4h-1zM134 304h1v6h-1zM135 306h1v6h-1zM137 306h1v6h-1zM138 303h1v6h-1zM139 302h1v6h-1zM141 305h1v6h-1zM142 307h1v6h-1zM144 299h1v6h-1zM145 302h1v6h-1zM146 298h1v6h-1zM148 302h1v6h-1zM149 297h1v6h-1zM150 293h1v6h-1zM152 298h1v6h-1zM153 300h1v6h-1zM155 296h1v6h-1zM156 302h1v6h-1zM157 294h1v6h-1zM159 294h1v6h-1zM160 296h1v6h-1zM162 294h1v6h-1zM163 296h1v6h-1zM164 292h1v6h-1zM166 297h1v6h-1zM167 293h1v6h-1zM168 297h1v6h-1zM170 296h1v6h-1zM171 288h1v6h-1zM173 289h1v6h-1zM174 289h1v6h-1zM175 289h1v6h-1zM177 293h1v6h-1zM178 293h1v6h-1zM179 290h1v6h-1zM181 295h1v6h-1zM182 289h1v6h-1zM184 292h1v6h-1zM185 290h1v6h-1zM186 293h1v6h-1zM188 286h1v6h-1zM189 285h1v6h-1zM190 287h1v6h-1zM192 288h1v6h-1zM193 286h1v6h-1zM195 287h1v6h-1zM196 289h1v6h-1zM197 285h1v6h-1zM199 282h1v6h-1zM200 285h1v6h-1zM201 289h1v6h-1zM203 286h1v6h-1zM204 286h1v6h-1zM206 283h1v6h-1zM207 285h1v6h-1zM208 280h1v6h-1zM210 284h1v6h-1zM211 286h1v6h-1zM213 285h1v6h-1zM214 287h1v6h-1zM215 287h1v6h-1zM217 282h1v6h-1zM218 279h1v6h-1zM219 284h1v6h-1zM221 278h1v6h-1zM222 279h1v6h-1zM224 280h1v6h-1zM225 278h1v6h-1zM226 283h1v6h-1zM228 283h1v6h-1zM229 286h1v6h-1zM230 283h1v6h-1zM232 280h1v6h-1zM233 280h1v6h-1zM235 280h1v6h-1zM236 278h1v6h-1zM237 275h1v6h-1zM239 275h1v6h-1zM240 274h1v6h-1zM241 275h1v6h-1zM243 279h1v6h-1zM244 277h1v6h-1zM246 274h1v6h-1zM247 283h1v6h-1zM248 284h1v6h-1zM250 280h1v6h-1zM251 280h1v6h-1zM252 281h1v6h-1zM254 283h1v6h-1zM255 282h1v6h-1zM257 284h1v6h-1zM258 284h1v6h-1zM259 287h1v6h-1zM261 290h1v6h-1zM262 291h1v6h-1zM264 292h1v6h-1zM265 295h1v6h-1zM266 294h1v6h-1zM268 297h1v6h-1zM269 301h1v6h-1zM270 301h1v6h-1zM272 302h1v6h-1zM273 304h1v6h-1zM275 304h1v6h-1zM276 306h1v6h-1zM277 310h1v6h-1zM279 314h1v4h-1zM280 310h1v6h-1zM281 310h1v6h-1zM283 312h1v6h-1zM284 315h1v4h-1zM286 317h1v4h-1zM287 321h1v4h-1zM288 318h1v4h-1zM290 324h1v4h-1zM291 322h1v4h-1zM292 326h1v4h-1zM294 327h1v4h-1zM295 325h1v4h-1zM297 326h1v4h-1zM298 327h1v4h-1zM299 326h1v4h-1zM301 328h1v4h-1zM302 329h1v4h-1zM303 332h1v4h-1zM305 335h1v4h-1zM306 335h1v4h-1zM308 336h1v4h-1zM309 336h1v4h-1zM310 336h1v4h-1zM312 337h1v4h-1zM313 339h1v4h-1zM315 339h1v4h-1zM316 336h1v4h-1zM317 338h1v4h-1zM319 338h1v4h-1zM320 338h1v4h-1zM321 338h1v4h-1zM323 340h1v4h-1zM324 339h1v4h-1zM326 341h1v4h-1zM327 346h1v4h-1zM328 343h1v4h-1zM330 340h1v4h-1zM331 346h1v4h-1zM332 344h1v4h-1zM334 341h1v4h-1zM335 342h1v4h-1zM337 341h1v4h-1zM338 345h1v4h-1zM339 346h1v4h-1zM341 345h1v4h-1zM342 346h1v4h-1zM343 346h1v4h-1zM345 343h1v4h-1zM346 343h1v4h-1zM348 343h1v4h-1zM349 343h1v4h-1zM350 342h1v4h-1zM352 342h1v4h-1zM353 342h1v4h-1zM354 340h1v4h-1zM356 340h1v4h-1zM357 339h1v4h-1zM359 338h1v4h-1zM360 340h1v4h-1zM361 338h1v4h-1zM363 336h1v4h-1zM364 333h1v4h-1zM366 333h1v4h-1zM367 331h1v4h-1zM368 331h1v4h-1zM370 332h1v4h-1zM371 332h1v4h-1zM372 329h1v4h-1zM374 330h1v4h-1zM375 329h1v4h-1zM377 331h1v4h-1zM378 328h1v4h-1zM379 329h1v4h-1zM381 329h1v4h-1zM382 330h1v4h-1zM383 333h1v4h-1zM385 338h1v4h-1zM386 336h1v4h-1zM388 341h1v4h-1zM389 343h1v4h-1zM390 343h1v4h-1zM392 346h1v4h-1zM393 345h1v4h-1zM394 348h1v4h-1zM396 350h1v4h-1zM397 352h1v4h-1zM399 354h1v4h-1zM400 358h1v4h-1zM401 356h1v4h-1zM403 360h1v4h-1zM404 362h1v4h-1zM406 362h1v4h-1zM407 363h1v4h-1zM408 363h1v4h-1zM410 365h1v4h-1zM411 366h1v4h-1zM412 369h1v4h-1zM414 367h1v4h-1zM415 367h1v4h-1zM417 369h1v4h-1zM418 370h1v4h-1zM419 369h1v4h-1zM421 373h1v4h-1zM422 371h1v4h-1zM423 372h1v4h-1zM425 374h1v4h-1zM426 373h1v4h-1zM428 373h1v4h-1zM429 373h1v4h-1zM430 374h1v4h-1zM432 379h1v2h-1zM433 380h1v2h-1zM434 378h1v2h-1zM436 378h1v2h-1zM437 379h1v2h-1zM439 380h1v2h-1zM440 379h1v2h-1zM441 380h1v2h-1zM443 379h1v2h-1zM444 378h1v2h-1zM445 379h1v2h-1zM447 380h1v2h-1zM448 380h1v2h-1zM450 380h1v2h-1zM451 378h1v2h-1zM452 380h1v2h-1zM454 379h1v2h-1zM455 381h1v2h-1zM457 381h1v2h-1zM458 380h1v2h-1zM459 382h1v2h-1zM461 381h1v2h-1zM462 383h1v2h-1zM463 381h1v2h-1zM465 381h1v2h-1zM466 383h1v2h-1zM468 382h1v2h-1zM469 383h1v2h-1zM470 385h1v2h-1zM472 380h1v2h-1zM473 382h1v2h-1zM474 382h1v2h-1zM476 383h1v2h-1zM477 384h1v2h-1zM479 382h1v2h-1zM480 386h1v2h-1zM481 385h1v2h-1zM483 385h1v2h-1zM484 385h1v2h-1zM485 385h1v2h-1zM487 386h1v2h-1zM488 387h1v2h-1zM490 387h1v2h-1zM491 385h1v2h-1zM492 385h1v2h-1zM494 385h1v2h-1zM495 385h1v2h-1zM496 387h1v2h-1zM498 385h1v2h-1zM499 386h1v2h-1zM501 386h1v2h-1zM502 387h1v2h-1zM503 386h1v2h-1zM505 387h1v2h-1zM506 387h1v2h-1zM508 387h1v2h-1zM509 385h1v2h-1zM510 387h1v2h-1zM512 387h1v2h-1zM513 387h1v2h-1zM514 387h1v2h-1zM516 387h1v2h-1zM517 389h1v2h-1zM519 389h1v2h-1zM520 388h1v2h-1zM521 388h1v2h-1zM523 389h1v2h-1zM524 389h1v2h-1zM525 389h1v2h-1zM527 391h1v2h-1zM528 389h1v2h-1zM530 390h1v2h-1zM531 389h1v2h-1zM532 390h1v2h-1zM534 390h1v2h-1zM535 391h1v2h-1zM536 390h1v2h-1zM538 391h1v2h-1zM539 390h1v2h-1zM541 389h1v2h-1zM542 391h1v2h-1zM543 390h1v2h-1zM545 389h1v2h-1zM546 390h1v2h-1zM547 390h1v2h-1zM549 390h1v2h-1zM550 391h1v2h-1zM552 392h1v2h-1zM553 391h1v2h-1zM554 392h1v2h-1zM556 389h1v2h-1zM557 391h1v2h-1zM559 391h1v2h-1zM560 392h1v2h-1zM561 390h1v2h-1zM563 392h1v2h-1zM564 391h1v2h-1zM565 391h1v2h-1zM567 392h1v2h-1zM568 392h1v2h-1zM570 392h1v2h-1zM571 393h1v2h-1zM572 392h1v2h-1zM574 391h1v2h-1zM575 392h1v2h-1zM576 392h1v2h-1zM578 393h1v2h-1zM579 392h1v2h-1zM581 393h1v2h-1zM582 393h1v2h-1zM583 393h1v2h-1zM585 392h1v2h-1zM586 393h1v2h-1zM587 393h1v2h-1zM589 394h1v2h-1zM590 393h1v2h-1zM592 394h1v2h-1zM593 394h1v2h-1zM594 394h1v2h-1zM596 394h1v2h-1zM597 394h1v2h-1zM598 394h1v2h-1zM600 394h1v2h-1zM601 394h1v2h-1zM603 394h1v2h-1zM604 394h1v2h-1zM605 394h1v2h-1zM607 394h1v2h-1zM608 395h1v2h-1zM610 395h1v2h-1zM611 395h1v2h-1zM612 396h1v2h-1zM614 395h1v2h-1zM615 395h1v2h-1zM616 395h1v2h-1zM618 395h1v2h-1zM619 396h1v2h-1zM621 395h1v2h-1zM622 395h1v2h-1zM623 395h1v2h-1zM625 395h1v2h-1zM626 396h1v2h-1zM627 396h1v2h-1zM629 396h1v2h-1zM630 396h1v2h-1zM632 395h1v2h-1zM633 396h1v2h-1zM634 395h1v2h-1zM636 396h1v2h-1zM637 396h1v2h-1zM638 396h1v2h-1zM640 396h1v2h-1zM641 396h1v2h-1zM643 396h1v2h-1zM644 397h1v2h-1zM645 397h1v2h-1zM647 396h1v2h-1zM648 397h1v2h-1zM650 396h1v2h-1zM651 396h1v2h-1zM652 397h1v2h-1zM654 397h1v2h-1zM655 397h1v2h-1zM656 397h1v2h-1zM658 396h1v2h-1zM659 397h1v2h-1zM661 397h1v2h-1zM662 396h1v2h-1z" fill="#000"/>
<path d="M112 309h1v1h1v3h-3v-1h-1v-1h1v-1h1zM113 315h1v1h1v3h-3v-1h-1v-1h1v-1h1zM115 313h1v1h1v3h-3v-1h-1v-1h1v-1h1zM116 311h1v1h1v3h-3v-1h-1v-1h1v-1h1zM117 309h1v1h1v3h-3v-1h-1v-1h1v-1h1zM119 314h1v1h1v3h-3v-1h-1v-1h1v-1h1zM120 313h1v1h1v3h-3v-1h-1v-1h1v-1h1zM122 318h1v1h1v3h-3v-1h-1v-1h1v-1h1zM123 316h1v1h1v3h-3v-1h-1v-1h1v-1h1zM124 312h1v1h1v3h-3v-1h-1v-1h1v-1h1zM126 308h1v1h1v3h-3v-1h-1v-1h1v-1h1zM127 306h1v1h1v3h-3v-1h-1v-1h1v-1h1zM128 306h1v1h1v3h-3v-1h-1v-1h1v-1h1zM130 306h1v1h1v3h-3v-1h-1v-1h1v-1h1zM131 309h1v1h1v3h-3v-1h-1v-1h1v-1h1zM133 313h1v1h1v3h-3v-1h-1v-1h1v-1h1zM134 305h1v1h1v3h-3v-1h-1v-1h1v-1h1zM135 307h1v1h1v3h-3v-1h-1v-1h1v-1h1zM137 307h1v1h1v3h-3v-1h-1v-1h1v-1h1zM138 304h1v1h1v3h-3v-1h-1v-1h1v-1h1zM139 303h1v1h1v3h-3v-1h-1v-1h1v-1h1zM141 306h1v1h1v3h-3v-1h-1v-1h1v-1h1zM142 308h1v1h1v3h-3v-1h-1v-1h1v-1h1zM144 300h1v1h1v3h-3v-1h-1v-1h1v-1h1zM145 303h1v1h1v3h-3v-1h-1v-1h1v-1h1zM146 299h1v1h1v3h-3v-1h-1v-1h1v-1h1zM148 303h1v1h1v3h-3v-1h-1v-1h1v-1h1zM149 298h1v1h1v3h-3v-1h-1v-1h1v-1h1zM150 294h1v1h1v3h-3v-1h-1v-1h1v-1h1zM152 299h1v1h1v3h-3v-1h-1v-1h1v-1h1zM153 301h1v1h1v3h-3v-1h-1v-1h1v-1h1zM155 297h1v1h1v3h-3v-1h-1v-1h1v-1h1zM156 303h1v1h1v3h-3v-1h-1v-1h1v-1h1zM157 295h1v1h1v3h-3v-1h-1v-1h1v-1h1zM159 295h1v1h1v3h-3v-1h-1v-1h1v-1h1zM160 297h1v1h1v3h-3v-1h-1v-1h1v-1h1zM162 295h1v1h1v3h-3v-1h-1v-1h1v-1h1zM163 297h1v1h1v3h-3v-1h-1v-1h1v-1h1zM164 293h1v1h1v3h-3v-1h-1v-1h1v-1h1zM166 298h1v1h1v3h-3v-1h-1v-1h1v-1h1zM167 294h1v1h1v3h-3v-1h-1v-1h1v-1h1zM168 298h1v1h1v3h-3v-1h-1v-1h1v-1h1zM170 297h1v1h1v3h-3v-1h-1v-1h1v-1h1zM171 289h1v1h1v3h-3v-1h-1v-1h1v-1h1zM173 290h1v1h1v3h-3v-1h-1v-1h1v-1h1zM174 290h1v1h1v3h-3v-1h-1v-1h1v-1h1zM175 290h1v1h1v3h-3v-1h-1v-1h1v-1h1zM177 294h1v1h1v3h-3v-1h-1v-1h1v-1h1zM178 294h1v1h1v3h-3v-1h-1v-1h1v-1h1zM179 291h1v1h1v3h-3v-1h-1v-1h1v-1h1zM181 296h1v1h1v3h-3v-1h-1v-1h1v-1h1zM182 290h1v1h1v3h-3v-1h-1v-1h1v-1h1zM184 293h1v1h1v3h-3v-1h-1v-1h1v-1h1zM185 291h1v1h1v3h-3v-1h-1v-1h1v-1h1zM186 294h1v1h1v3h-3v-1h-1v-1h1v-1h1zM188 287h1v1h1v3h-3v-1h-1v-1h1v-1h1zM189 286h1v1h1v3h-3v-1h-1v-1h1v-1h1zM190 288h1v1h1v3h-3v-1h-1v-1h1v-1h1zM192 289h1v1h1v3h-3v-1h-1v-1h1v-1h1zM193 287h1v1h1v3h-3v-1h-1v-1h1v-1h1zM195 288h1v1h1v3h-3v-1h-1v-1h1v-1h1zM196 290h1v1h1v3h-3v-1h-1v-1h1v-1h1zM197 286h1v1h1v3h-3v-1h-1v-1h1v-1h1zM199 283h1v1h1v3h-3v-1h-1v-1h1v-1h1zM200 286h1v1h1v3h-3v-1h-1v-1h1v-1h1zM201 290h1v1h1v3h-3v-1h-1v-1h1v-1h1zM203 287h1v1h1v3h-3v-1h-1v-1h1v-1h1zM204 287h1v1h1v3h-3v-1h-1v-1h1v-1h1zM206 284h1v1h1v3h-3v-1h-1v-1h1v-1h1zM207 286h1v1h1v3h-3v-1h-1v-1h1v-1h1zM208 281h1v1h1v3h-3v-1h-1v-1h1v-1h1zM210 285h1v1h1v3h-3v-1h-1v-1h1v-1h1zM211 287h1v1h1v3h-3v-1h-1v-1h1v-1h1zM213 286h1v1h1v3h-3v-1h-1v-1h1v-1h1zM214 288h1v1h1v3h-3v-1h-1v-1h1v-1h1zM215 288h1v1h1v3h-3v-1h-1v-1h1v-1h1zM217 283h1v1h1v3h-3v-1h-1v-1h1v-1h1zM218 280h1v1h1v3h-3v-1h-1v-1h1v-1h1zM219 285h1v1h1v3h-3v-1h-1v-1h1v-1h1zM221 279h1v1h1v3h-3v-1h-1v-1h1v-1h1zM222 280h1v1h1v3h-3v-1h-1v-1h1v-1h1zM224 281h1v1h1v3h-3v-1h-1v-1h1v-1h1zM225 279h1v1h1v3h-3v-1h-1v-1h1v-1h1zM226 284h1v1h1v3h-3v-1h-1v-1h1v-1h1zM228 284h1v1h1v3h-3v-1h-1v-1h1v-1h1zM229 287h1v1h1v3h-3v-1h-1v-1h1v-1h1zM230 284h1v1h1v3h-3v-1h-1v-1h1v-1h1zM232 281h1v1h1v3h-3v-1h-1v-1h1v-1h1zM233 281h1v1h1v3h-3v-1h-1v-1h1v-1h1zM235 281h1v1h1v3h-3v-1h-1v-1h1v-1h1zM236 279h1v1h1v3h-3v-1h-1v-1h1v-1h1zM237 276h1v1h1v3h-3v-1h-1v-1h1v-1h1zM239 276h1v1h1v3h-3v-1h-1v-1h1v-1h1zM240 275h1v1h1v3h-3v-1h-1v-1h1v-1h1zM241 276h1v1h1v3h-3v-1h-1v-1h1v-1h1zM243 280h1v1h1v3h-3v-1h-1v-1h1v-1h1zM244 278h1v1h1v3h-3v-1h-1v-1h1v-1h1zM246 275h1v1h1v3h-3v-1h-1v-1h1v-1h1zM247 284h1v1h1v3h-3v-1h-1v-1h1v-1h1zM248 285h1v1h1v3h-3v-1h-1v-1h1v-1h1zM250 281h1v1h1v3h-3v-1h-1v-1h1v-1h1zM251 281h1v1h1v3h-3v-1h-1v-1h1v-1h1zM252 282h1v1h1v3h-3v-1h-1v-1h1v-1h1zM254 284h1v1h1v3h-3v-1h-1v-1h1v-1h1zM255 283h1v1h1v3h-3v-1h-1v-1h1v-1h1zM257 285h1v1h1v3h-3v-1h-1v-1h1v-1h1zM258 285h1v1h1v3h-3v-1h-1v-1h1v-1h1zM259 288h1v1h1v3h-3v-1h-1v-1h1v-1h1zM261 291h1v1h1v3h-3v-1h-1v-1h1v-1h1zM262 292h1v1h1v3h-3v-1h-1v-1h1v-1h1zM264 293h1v1h1v3h-3v-1h-1v-1h1v-1h1zM265 296h1v1h1v3h-3v-1h-1v-1h1v-1h1zM266 295h1v1h1v3h-3v-1h-1v-1h1v-1h1zM268 298h1v1h1v3h-3v-1h-1v-1h1v-1h1zM269 302h1v1h1v3h-3v-1h-1v-1h1v-1h1zM270 302h1v1h1v3h-3v-1h-1v-1h1v-1h1zM272 303h1v1h1v3h-3v-1h-1v-1h1v-1h1zM273 305h1v1h1v3h-3v-1h-1v-1h1v-1h1zM275 305h1v1h1v3h-3v-1h-1v-1h1v-1h1zM276 307h1v1h1v3h-3v-1h-1v-1h1v-1h1zM277 311h1v1h1v3h-3v-1h-1v-1h1v-1h1zM279 314h1v1h1v3h-3v-1h-1v-1h1v-1h1zM280 311h1v1h1v3h-3v-1h-1v-1h1v-1h1zM281 311h1v1h1v3h-3v-1h-1v-1h1v-1h1zM283 313h1v1h1v3h-3v-1h-1v-1h1v-1h1zM284 315h1v1h1v3h-3v-1h-1v-1h1v-1h1zM286 317h1v1h1v3h-3v-1h-1v-1h1v-1h1zM287 321h1v1h1v3h-3v-1h-1v-1h1v-1h1zM288 318h1v1h1v3h-3v-1h-1v-1h1v-1h1zM290 324h1v1h1v3h-3v-1h-1v-1h1v-1h1zM291 322h1v1h1v3h-3v-1h-1v-1h1v-1h1zM292 326h1v1h1v3h-3v-1h-1v-1h1v-1h1zM294 327h1v1h1v3h-3v-1h-1v-1h1v-1h1zM295 325h1v1h1v3h-3v-1h-1v-1h1v-1h1zM297 326h1v1h1v3h-3v-1h-1v-1h1v-1h1zM298 327h1v1h1v3h-3v-1h-1v-1h1v-1h1zM299 326h1v1h1v3h-3v-1h-1v-1h1v-1h1zM301 328h1v1h1v3h-3v-1h-1v-1h1v-1h1zM302 329h1v1h1v3h-3v-1h-1v-1h1v-1h1zM303 332h1v1h1v3h-3v-1h-1v-1h1v-1h1zM305 335h1v1h1v3h-3v-1h-1v-1h1v-1h1zM306 335h1v1h1v3h-3v-1h-1v-1h1v-1h1zM308 336h1v1h1v3h-3v-1h-1v-1h1v-1h1zM309 336h1v1h1v3h-3v-1h-1v-1h1v-1h1zM310 336h1v1h1v3h-3v-1h-1v-1h1v-1h1zM312 337h1v1h1v3h-3v-1h-1v-1h1v-1h1zM313 339h1v1h1v3h-3v-1h-1v-1h1v-1h1zM315 339h1v1h1v3h-3v-1h-1v-1h1v-1h1zM316 336h1v1h1v3h-3v-1h-1v-1h1v-1h1zM317 338h1v1h1v3h-3v-1h-1v-1h1v-1h1zM319 338h1v1h1v3h-3v-1h-1v-1h1v-1h1zM320 338h1v1h1v3h-3v-1h-1v-1h1v-1h1zM321 338h1v1h1v3h-3v-1h-1v-1h1v-1h1zM323 340h1v1h1v3h-3v-1h-1v-1h1v-1h1zM324 339h1v1h1v3h-3v-1h-1v-1h1v-1h1zM326 341h1v1h1v3h-3v-1h-1v-1h1v-1h1zM327 346h1v1h1v3h-3v-1h-1v-1h1v-1h1zM328 343h1v1h1v3h-3v-1h-1v-1h1v-1h1zM330 340h1v1h1v3h-3v-1h-1v-1h1v-1h1zM331 346h1v1h1v3h-3v-1h-1v-1h1v-1h1zM332 344h1v1h1v3h-3v-1h-1v-1h1v-1h1zM334 341h1v1h1v3h-3v-1h-1v-1h1v-1h1zM335 342h1v1h1v3h-3v-1h-1v-1h1v-1h1zM337 341h1v1h1v3h-3v-1h-1v-1h1v-1h1zM338 345h1v1h1v3h-3v-1h-1v-1h1v-1h1zM339 346h1v1h1v3h-3v-1h-1v-1h1v-1h1zM341 345h1v1h1v3h-3v-1h-1v-1h1v-1h1zM342 346h1v1h1v3h-3v-1h-1v-1h1v-1h1zM343 346h1v1h1v3h-3v-1h-1v-1h1v-1h1zM345 343h1v1h1v3h-3v-1h-1v-1h1v-1h1zM346 343h1v1h1v3h-3v-1h-1v-1h1v-1h1zM348 343h1v1h1v3h-3v-1h-1v-1h1v-1h1zM349 343h1v1h1v3h-3v-1h-1v-1h1v-1h1zM350 342h1v1h1v3h-3v-1h-1v-1h1v-1h1zM352 342h1v1h1v3h-3v-1h-1v-1h1v-1h1zM353 342h1v1h1v3h-3v-1h-1v-1h1v-1h1zM354 340h1v1h1v3h-3v-1h-1v-1h1v-1h1zM356 340h1v1h1v3h-3v-1h-1v-1h1v-1h1zM357 339h1v1h1v3h-3v-1h-1v-1h1v-1h1zM359 338h1v1h1v3h-3v-1h-1v-1h1v-1h1zM360 340h1v1h1v3h-3v-1h-1v-1h1v-1h1zM361 338h1v1h1v3h-3v-1h-1v-1h1v-1h1zM363 336h1v1h1v3h-3v-1h-1v-1h1v-1h1zM364 333h1v1h1v3h-3v-1h-1v-1h1v-1h1zM366 333h1v1h1v3h-3v-1h-1v-1h1v-1h1zM367 331h1v1h1v3h-3v-1h-1v-1h1v-1h1zM368 331h1v1h1v3h-3v-1h-1v-1h1v-1h1zM370 332h1v1h1v3h-3v-1h-1v-1h1v-1h1zM371 332h1v1h1v3h-3v-1h-1v-1h1v-1h1zM372 329h1v1h1v3h-3v-1h-1v-1h1v-1h1zM374 330h1v1h1v3h-3v-1h-1v-1h1v-1h1zM375 329h1v1h1v3h-3v-1h-1v-1h1v-1h1zM377 331h1v1h1v3h-3v-1h-1v-1h1v-1h1zM378 328h1v1h1v3h-3v-1h-1v-1h1v-1h1zM379 329h1v1h1v3h-3v-1h-1v-1h1v-1h1zM381 329h1v1h1v3h-3v-1h-1v-1h1v-1h1zM382 330h1v1h1v3h-3v-1h-1v-1h1v-1h1zM383 333h1v1h1v3h-3v-1h-1v-1h1v-1h1zM385 338h1v1h1v3h-3v-1h-1v-1h1v-1h1zM386 336h1v1h1v3h-3v-1h-1v-1h1v-1h1zM388 341h1v1h1v3h-3v-1h-1v-1h1v-1h1zM389 343h1v1h1v3h-3v-1h-1v-1h1v-1h1zM390 343h1v1h1v3h-3v-1h-1v-1h1v-1h1zM392 346h1v1h1v3h-3v-1h-1v-1h1v-1h1zM393 345h1v1h1v3h-3v-1h-1v-1h1v-1h1zM394 348h1v1h1v3h-3v-1h-1v-1h1v-1h1zM396 350h1v1h1v3h-3v-1h-1v-1h1v-1h1zM397 352h1v1h1v3h-3v-1h-1v-1h1v-1h1zM399 354h1v1h1v3h-3v-1h-1v-1h1v-1h1zM400 358h1v1h1v3h-3v-1h-1v-1h1v-1h1zM401 356h1v1h1v3h-3v-1h-1v-1h1v-1h1zM403 360h1v1h1v3h-3v-1h-1v-1h1v-1h1zM404 362h1v1h1v3h-3v-1h-1v-1h1v-1h1zM406 362h1v1h1v3h-3v-1h-1v-1h1v-1h1zM407 363h1v1h1v3h-3v-1h-1v-1h1v-1h1zM408 363h1v1h1v3h-3v-1h-1v-1h1v-1h1zM410 365h1v1h1v3h-3v-1h-1v-1h1v-1h1zM411 366h1v1h1v3h-3v-1h-1v-1h1v-1h1zM412 369h1v1h1v3h-3v-1h-1v-1h1v-1h1zM414 367h1v1h1v3h-3v-1h-1v-1h1v-1h1zM415 367h1v1h1v3h-3v-1h-1v-1h1v-1h1zM417 369h1v1h1v3h-3v-1h-1v-1h1v-1h1zM418 370h1v1h1v3h-3v-1h-1v-1h1v-1h1zM419 369h1v1h1v3h-3v-1h-1v-1h1v-1h1zM421 373h1v1h1v3h-3v-1h-1v-1h1v-1h1zM422 371h1v1h1v3h-3v-1h-1v-1h1v-1h1zM423 372h1v1h1v3h-3v-1h-1v-1h1v-1h1zM425 374h1v1h1v3h-3v-1h-1v-1h1v-1h1zM426 373h1v1h1v3h-3v-1h-1v-1h1v-1h1zM428 373h1v1h1v3h-3v-1h-1v-1h1v-1h1zM429 373h1v1h1v3h-3v-1h-1v-1h1v-1h1zM430 374h1v1h1v3h-3v-1h-1v-1h1v-1h1zM432 378h1v1h1v3h-3v-1h-1v-1h1v-1h1zM433 379h1v1h1v3h-3v-1h-1v-1h1v-1h1zM434 377h1v1h1v3h-3v-1h-1v-1h1v-1h1zM436 377h1v1h1v3h-3v-1h-1v-1h1v-1h1zM437 378h1v1h1v3h-3v-1h-1v-1h1v-1h1zM439 379h1v1h1v3h-3v-1h-1v-1h1v-1h1zM440 378h1v1h1v3h-3v-1h-1v-1h1v-1h1zM441 379h1v1h1v3h-3v-1h-1v-1h1v-1h1zM443 378h1v1h1v3h-3v-1h-1v-1h1v-1h1zM444 377h1v1h1v3h-3v-1h-1v-1h1v-1h1zM445 378h1v1h1v3h-3v-1h-1v-1h1v-1h1zM447 379h1v1h1v3h-3v-1h-1v-1h1v-1h1zM448 379h1v1h1v3h-3v-1h-1v-1h1v-1h1zM450 379h1v1h1v3h-3v-1h-1v-1h1v-1h1zM451 377h1v1h1v3h-3v-1h-1v-1h1v-1h1zM452 379h1v1h1v3h-3v-1h-1v-1h1v-1h1zM454 378h1v1h1v3h-3v-1h-1v-1h1v-1h1zM455 380h1v1h1v3h-3v-1h-1v-1h1v-1h1zM457 380h1v1h1v3h-3v-1h-1v-1h1v-1h1zM458 379h1v1h1v3h-3v-1h-1v-1h1v-1h1zM459 381h1v1h1v3h-3v-1h-1v-1h1v-1h1zM461 380h1v1h1v3h-3v-1h-1v-1h1v-1h1zM462 382h1v1h1v3h-3v-1h-1v-1h1v-1h1zM463 380h1v1h1v3h-3v-1h-1v-1h1v-1h1zM465 380h1v1h1v3h-3v-1h-1v-1h1v-1h1zM466 382h1v1h1v3h-3v-1h-1v-1h1v-1h1zM468 381h1v1h1v3h-3v-1h-1v-1h1v-1h1zM469 382h1v1h1v3h-3v-1h-1v-1h1v-1h1zM470 384h1v1h1v3h-3v-1h-1v-1h1v-1h1zM472 379h1v1h1v3h-3v-1h-1v-1h1v-1h1zM473 381h1v1h1v3h-3v-1h-1v-1h1v-1h1zM474 381h1v1h1v3h-3v-1h-1v-1h1v-1h1zM476 382h1v1h1v3h-3v-1h-1v-1h1v-1h1zM477 383h1v1h1v3h-3v-1h-1v-1h1v-1h1zM479 381h1v1h1v3h-3v-1h-1v-1h1v-1h1zM480 385h1v1h1v3h-3v-1h-1v-1h1v-1h1zM481 384h1v1h1v3h-3v-1h-1v-1h1v-1h1zM483 384h1v1h1v3h-3v-1h-1v-1h1v-1h1zM484 384h1v1h1v3h-3v-1h-1v-1h1v-1h1zM485 384h1v1h1v3h-3v-1h-1v-1h1v-1h1zM487 385h1v1h1v3h-3v-1h-1v-1h1v-1h1zM488 386h1v1h1v3h-3v-1h-1v-1h1v-1h1zM490 386h1v1h1v3h-3v-1h-1v-1h1v-1h1zM491 384h1v1h1v3h-3v-1h-1v-1h1v-1h1zM492 384h1v1h1v3h-3v-1h-1v-1h1v-1h1zM494 384h1v1h1v3h-3v-1h-1v-1h1v-1h1zM495 384h1v1h1v3h-3v-1h-1v-1h1v-1h1zM496 386h1v1h1v3h-3v-1h-1v-1h1v-1h1zM498 384h1v1h1v3h-3v-1h-1v-1h1v-1h1zM499 385h1v1h1v3h-3v-1h-1v-1h1v-1h1zM501 385h1v1h1v3h-3v-1h-1v-1h1v-1h1zM502 386h1v1h1v3h-3v-1h-1v-1h1v-1h1zM503 385h1v1h1v3h-3v-1h-1v-1h1v-1h1zM505 386h1v1h1v3h-3v-1h-1v-1h1v-1h1zM506 386h1v1h1v3h-3v-1h-1v-1h1v-1h1zM508 386h1v1h1v3h-3v-1h-1v-1h1v-1h1zM509 384h1v1h1v3h-3v-1h-1v-1h1v-1h1zM510 386h1v1h1v3h-3v-1h-1v-1h1v-1h1zM512 386h1v1h1v3h-3v-1h-1v-1h1v-1h1zM513 386h1v1h1v3h-3v-1h-1v-1h1v-1h1zM514 386h1v1h1v3h-3v-1h-1v-1h1v-1h1zM516 386h1v1h1v3h-3v-1h-1v-1h1v-1h1zM517 388h1v1h1v3h-3v-1h-1v-1h1v-1h1zM519 388h1v1h1v3h-3v-1h-1v-1h1v-1h1zM520 387h1v1h1v3h-3v-1h-1v-1h1v-1h1zM521 387h1v1h1v3h-3v-1h-1v-1h1v-1h1zM523 388h1v1h1v3h-3v-1h-1v-1h1v-1h1zM524 388h1v1h1v3h-3v-1h-1v-1h1v-1h1zM525 388h1v1h1v3h-3v-1h-1v-1h1v-1h1zM527 390h1v1h1v3h-3v-1h-1v-1h1v-1h1zM528 388h1v1h1v3h-3v-1h-1v-1h1v-1h1zM530 389h1v1h1v3h-3v-1h-1v-1h1v-1h1zM531 388h1v1h1v3h-3v-1h-1v-1h1v-1h1zM532 389h1v1h1v3h-3v-1h-1v-1h1v-1h1zM534 389h1v1h1v3h-3v-1h-1v-1h1v-1h1zM535 390h1v1h1v3h-3v-1h-1v-1h1v-1h1zM536 389h1v1h1v3h-3v-1h-1v-1h1v-1h1zM538 390h1v1h1v3h-3v-1h-1v-1h1v-1h1zM539 389h1v1h1v3h-3v-1h-1v-1h1v-1h1zM541 388h1v1h1v3h-3v-1h-1v-1h1v-1h1zM542 390h1v1h1v3h-3v-1h-1v-1h1v-1h1zM543 389h1v1h1v3h-3v-1h-1v-1h1v-1h1zM545 388h1v1h1v3h-3v-1h-1v-1h1v-1h1zM546 389h1v1h1v3h-3v-1h-1v-1h1v-1h1zM547 389h1v1h1v3h-3v-1h-1v-1h1v-1h1zM549 389h1v1h1v3h-3v-1h-1v-1h1v-1h1zM550 390h1v1h1v3h-3v-1h-1v-1h1v-1h1zM552 391h1v1h1v3h-3v-1h-1v-1h1v-1h1zM553 390h1v1h1v3h-3v-1h-1v-1h1v-1h1zM554 391h1v1h1v3h-3v-1h-1v-1h1v-1h1zM556 388h1v1h1v3h-3v-1h-1v-1h1v-1h1zM557 390h1v1h1v3h-3v-1h-1v-1h1v-1h1zM559 390h1v1h1v3h-3v-1h-1v-1h1v-1h1zM560 391h1v1h1v3h-3v-1h-1v-1h1v-1h1zM561 389h1v1h1v3h-3v-1h-1v-1h1v-1h1zM563 391h1v1h1v3h-3v-1h-1v-1h1v-1h1zM564 390h1v1h1v3h-3v-1h-1v-1h1v-1h1zM565 390h1v1h1v3h-3v-1h-1v-1h1v-1h1zM567 391h1v1h1v3h-3v-1h-1v-1h1v-1h1zM568 391h1v1h1v3h-3v-1h-1v-1h1v-1h1zM570 391h1v1h1v3h-3v-1h-1v-1h1v-1h1zM571 392h1v1h1v3h-3v-1h-1v-1h1v-1h1zM572 391h1v1h1v3h-3v-1h-1v-1h1v-1h1zM574 390h1v1h1v3h-3v-1h-1v-1h1v-1h1zM575 391h1v1h1v3h-3v-1h-1v-1h1v-1h1zM576 391h1v1h1v3h-3v-1h-1v-1h1v-1h1zM578 392h1v1h1v3h-3v-1h-1v-1h1v-1h1zM579 391h1v1h1v3h-3v-1h-1v-1h1v-1h1zM581 392h1v1h1v3h-3v-1h-1v-1h1v-1h1zM582 392h1v1h1v3h-3v-1h-1v-1h1v-1h1zM583 392h1v1h1v3h-3v-1h-1v-1h1v-1h1zM585 391h1v1h1v3h-3v-1h-1v-1h1v-1h1zM586 392h1v1h1v3h-3v-1h-1v-1h1v-1h1zM587 392h1v1h1v3h-3v-1h-1v-1h1v-1h1zM589 393h1v1h1v3h-3v-1h-1v-1h1v-1h1zM590 392h1v1h1v3h-3v-1h-1v-1h1v-1h1zM592 393h1v1h1v3h-3v-1h-1v-1h1v-1h1zM593 393h1v1h1v3h-3v-1h-1v-1h1v-1h1zM594 393h1v1h1v3h-3v-1h-1v-1h1v-1h1zM596 393h1v1h1v3h-3v-1h-1v-1h1v-1h1zM597 393h1v1h1v3h-3v-1h-1v-1h1v-1h1zM598 393h1v1h1v3h-3v-1h-1v-1h1v-1h1zM600 393h1v1h1v3h-3v-1h-1v-1h1v-1h1zM601 393h1v1h1v3h-3v-1h-1v-1h1v-1h1zM603 393h1v1h1v3h-3v-1h-1v-1h1v-1h1zM604 393h1v1h1v3h-3v-1h-1v-1h1v-1h1zM605 393h1v1h1v3h-3v-1h-1v-1h1v-1h1zM607 393h1v1h1v3h-3v-1h-1v-1h1v-1h1zM608 394h1v1h1v3h-3v-1h-1v-1h1v-1h1zM610 394h1v1h1v3h-3v-1h-1v-1h1v-1h1zM611 394h1v1h1v3h-3v-1h-1v-1h1v-1h1zM612 395h1v1h1v3h-3v-1h-1v-1h1v-1h1zM614 394h1v1h1v3h-3v-1h-1v-1h1v-1h1zM615 394h1v1h1v3h-3v-1h-1v-1h1v-1h1zM616 394h1v1h1v3h-3v-1h-1v-1h1v-1h1zM618 394h1v1h1v3h-3v-1h-1v-1h1v-1h1zM619 395h1v1h1v3h-3v-1h-1v-1h1v-1h1zM621 394h1v1h1v3h-3v-1h-1v-1h1v-1h1zM622 394h1v1h1v3h-3v-1h-1v-1h1v-1h1zM623 394h1v1h1v3h-3v-1h-1v-1h1v-1h1zM625 394h1v1h1v3h-3v-1h-1v-1h1v-1h1zM626 395h1v1h1v3h-3v-1h-1v-1h1v-1h1zM627 395h1v1h1v3h-3v-1h-1v-1h1v-1h1zM629 395h1v1h1v3h-3v-1h-1v-1h1v-1h1zM630 395h1v1h1v3h-3v-1h-1v-1h1v-1h1zM632 394h1v1h1v3h-3v-1h-1v-1h1v-1h1zM633 395h1v1h1v3h-3v-1h-1v-1h1v-1h1zM634 394h1v1h1v3h-3v-1h-1v-1h1v-1h1zM636 395h1v1h1v3h-3v-1h-1v-1h1v-1h1zM637 395h1v1h1v3h-3v-1h-1v-1h1v-1h1zM638 395h1v1h1v3h-3v-1h-1v-1h1v-1h1zM640 395h1v1h1v3h-3v-1h-1v-1h1v-1h1zM641 395h1v1h1v3h-3v-1h-1v-1h1v-1h1zM643 395h1v1h1v3h-3v-1h-1v-1h1v-1h1zM644 396h1v1h1v3h-3v-1h-1v-1h1v-1h1zM645 396h1v1h1v3h-3v-1h-1v-1h1v-1h1zM647 395h1v1h1v3h-3v-1h-1v-1h1v-1h1zM648 396h1v1h1v3h-3v-1h-1v-1h1v-1h1zM650 395h1v1h1v3h-3v-1h-1v-1h1v-1h1zM651 395h1v1h1v3h-3v-1h-1v-1h1v-1h1zM652 396h1v1h1v3h-3v-1h-1v-1h1v-1h1zM654 396h1v1h1v3h-3v-1h-1v-1h1v-1h1zM655 396h1v1h1v3h-3v-1h-1v-1h1v-1h1zM656 396h1v1h1v3h-3v-1h-1v-1h1v-1h1zM658 395h1v1h1v3h-3v-1h-1v-1h1v-1h1zM659 396h1v1h1v3h-3v-1h-1v-1h1v-1h1zM661 396h1v1h1v3h-3v-1h-1v-1h1v-1h1zM662 395h1v1h1v3h-3v-1h-1v-1h1v-1h1z" fill="#ff0000"/>

</g>
<g fill="#000">
<g transform="matrix(1.0089 0 0 1.0460 140.97 60.59)"><text class="sans" font-weight="bold" font-style="italic" font-size="24" stroke="#000" stroke-width="0.7">PADME</text></g>
<g transform="matrix(1.0031 0 0 0.9833 229.32 61.33)"><text class="serif" font-size="24">Preliminary</text></g>
<g transform="matrix(1.0012 0 0 1.0079 138.60 85.16)"><text class="serif" font-size="24">nPOT=1.4</text></g>
<g transform="matrix(1.3722 0 0 1.1156 245.24 87.25)"><text class="serif" font-size="24">×</text></g>
<g transform="matrix(1.0122 0 0 1.0311 267.53 85.26)"><text class="serif" font-size="24">10</text></g>
<g transform="matrix(1.0205 0 0 0.9870 290.97 73.86)"><text class="serif" font-size="16">10</text></g>
<g transform="matrix(0.9996 0 0 1.0261 138.86 103.21)"><text class="serif" font-size="24">27k POT/bunch</text></g>
<g transform="matrix(1.0080 0 0 1.0328 139.56 126.40)"><text class="serif" font-size="19.5">bunch</text></g>
<g transform="matrix(1.0734 0 0 0.9871 193.39 126.00)"><text class="serif" font-size="19.5">Δ</text></g>
<g transform="matrix(1.0318 0 0 0.9789 211.51 125.83)"><text class="serif" font-size="19.5">t 280 ns</text></g>
<g transform="matrix(1.0230 0 0 1.0000 139.07 145.40)"><text class="serif" font-size="19.5">EBeam = 430 MeV</text></g>
<g transform="matrix(1.0069 0 0 1.0109 138.34 163.59)"><text class="serif" font-size="17">RunII</text></g>
<g transform="matrix(1.0018 0 0 0.9489 457.00 77.00)"><text class="sans" font-size="13">All clusters</text></g>
<g transform="matrix(1.2449 0 0 1.1202 456.64 107.76)"><text class="sans" font-size="11">+</text></g>
<g transform="matrix(1.0014 0 0 1.0120 467.82 106.95)"><text class="sans" font-size="13">cluster quality</text></g>
<g transform="matrix(1.1573 0 0 1.1806 85.03 425.94)"><text class="serif" font-size="24">−</text></g>
<g transform="matrix(1.0144 0 0 1.0703 98.99 423.18)"><text class="serif" font-size="24">200</text></g>
<g transform="matrix(1.1573 0 0 1.1806 153.59 425.94)"><text class="serif" font-size="24">−</text></g>
<g transform="matrix(1.0144 0 0 1.0703 168.43 423.18)"><text class="serif" font-size="24">150</text></g>
<g transform="matrix(1.1573 0 0 1.1806 222.59 425.94)"><text class="serif" font-size="24">−</text></g>
<g transform="matrix(1.0144 0 0 1.0703 237.43 423.18)"><text class="serif" font-size="24">100</text></g>
<g transform="matrix(1.1573 0 0 1.1806 298.27 425.94)"><text class="serif" font-size="24">−</text></g>
<g transform="matrix(1.0144 0 0 1.0703 311.75 423.18)"><text class="serif" font-size="24">50</text></g>
<g transform="matrix(1.0144 0 0 1.0703 381.20 423.18)"><text class="serif" font-size="24">0</text></g>
<g transform="matrix(1.0144 0 0 1.0703 443.85 423.18)"><text class="serif" font-size="24">50</text></g>
<g transform="matrix(1.0144 0 0 1.0703 506.40 423.18)"><text class="serif" font-size="24">100</text></g>
<g transform="matrix(1.0144 0 0 1.0703 575.40 423.18)"><text class="serif" font-size="24">150</text></g>
<g transform="matrix(1.0144 0 0 1.0703 645.04 423.18)"><text class="serif" font-size="24">200</text></g>
<g transform="matrix(1.0144 0 0 1.0703 59.91 357.18)"><text class="serif" font-size="24">1000</text></g>
<g transform="matrix(1.0144 0 0 1.0703 59.91 305.18)"><text class="serif" font-size="24">2000</text></g>
<g transform="matrix(1.0144 0 0 1.0703 59.91 253.18)"><text class="serif" font-size="24">3000</text></g>
<g transform="matrix(1.0144 0 0 1.0703 59.91 202.18)"><text class="serif" font-size="24">4000</text></g>
<g transform="matrix(1.0144 0 0 1.0703 59.91 150.18)"><text class="serif" font-size="24">5000</text></g>
<g transform="matrix(1.0144 0 0 1.0703 59.91 98.18)"><text class="serif" font-size="24">6000</text></g>
<g transform="matrix(1.0144 0 0 1.0703 59.91 46.18)"><text class="serif" font-size="24">7000</text></g>
</g>
<g transform="matrix(0.9867 0 0 0.9979 33.95 177.69)"><text class="sans" font-weight="bold" font-size="24" transform="rotate(-90)">counts/1 MeV</text></g>
<g transform="matrix(1.0537 0 0 0.9584 531.19 461.62)"><text class="serif" font-size="24">Δ</text></g>
<g transform="matrix(1.0195 0 0 1.0247 553.77 462.18)"><text class="sans" font-weight="bold" font-size="24">E</text></g>
<g transform="matrix(0.9461 0 0 1.0136 569.11 468.06)"><text class="sans" font-weight="bold" font-size="17">tag</text></g>
<g transform="matrix(0.9948 0 0 1.0000 598.74 461.80)"><text class="sans" font-weight="bold" font-size="24">[MeV]</text></g>
<g shape-rendering="crispEdges"><path d="M431 63h1v18h-1zM431 94h1v18h-1z" fill="#000"/>
<path d="M431 70h1v1h1v3h-3v-1h-1v-1h1v-1h1z" fill="#0000ff"/>
<path d="M431 101h1v1h1v3h-3v-1h-1v-1h1v-1h1z" fill="#ff0000"/></g>
</svg>
</body></html>
